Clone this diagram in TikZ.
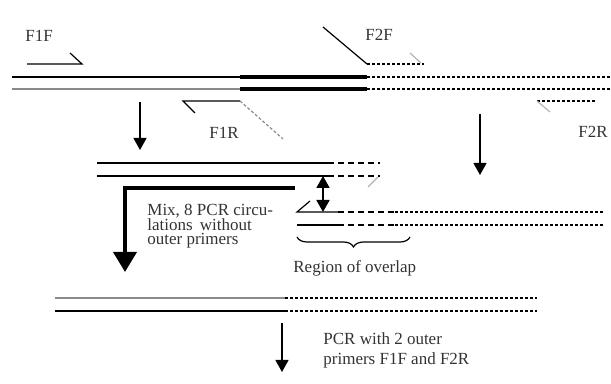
\documentclass[tikz,border=0pt]{standalone}
\usepackage{fontspec}
\setmainfont{Liberation Serif}
\usetikzlibrary{arrows.meta,decorations.pathreplacing}
\definecolor{strand-grey}{HTML}{8A8A8A}
\definecolor{tail-grey}{HTML}{B4B4B4}
\definecolor{label-grey}{HTML}{333333}

\begin{document}
\begin{tikzpicture}[x=0.5pt, y=-0.5pt,
    strand/.style={line width=0.6pt},
    fine dash/.style={line width=0.6pt, dash pattern=on 1.5pt off 1pt},
    coarse dash/.style={line width=0.6pt, dash pattern=on 3pt off 2pt},
    core/.style={line width=2.2pt},
    step arrow/.style={-{Triangle[width=6.5pt,length=6pt]}, line width=0.6pt},
    label/.style={font=\fontsize{8.5}{7.3}\selectfont, text=label-grey, inner sep=0pt}]
    % Coordinates in pixels of a 611 x 384 frame, y pointing down.
    %   top duplex at y=77 / 89, core from x=240 to x=367
    %   middle duplexes at y=163 / 176 and y=212 / 225
    %   product duplex at y=298 / 311
    \useasboundingbox (0,0) rectangle (611,384);

    % top duplex with both fragments
    \draw[strand] (12,77) -- (240,77);
    \draw[strand, strand-grey] (12,89) -- (240,89);
    \draw[core] (240,77) -- (367,77);
    \draw[core] (240,89) -- (367,89);
    \draw[fine dash] (367,77) -- (611,77);
    \draw[fine dash] (367,89) -- (611,89);

    % primers
    \draw[strand] (27,64) -- (82,64) -- (70,53);
    \draw[strand] (195,113) -- (183,101) -- (240,101);
    \draw[fine dash, strand-grey] (240,101) -- (283,139);
    \draw[strand] (323,27) -- (367,64);
    \draw[fine dash] (367,64) -- (424,64);
    \draw[strand, tail-grey] (410,53) -- (421,63);
    \draw[fine dash] (537,101) -- (595,101);
    \draw[strand, tail-grey] (537,101) -- (550,112);
    \node[label, anchor=base west] (f1f) at (25,42) {F1F};
    \node[label, anchor=base west] (f1r) at (209,139) {F1R};
    \node[label, anchor=base west] (f2f) at (365,41) {F2F};
    \node[label, anchor=base west] (f2r) at (578,138) {F2R};

    \draw[step arrow] (140,102) -- (140,150);
    \draw[step arrow] (480,114) -- (480,175);

    % first PCR products
    \draw[strand] (97,163) -- (328,163);
    \draw[coarse dash] (328,163) -- (380,163);
    \draw[strand] (97,176) -- (328,176);
    \draw[coarse dash] (328,176) -- (380,176);
    \draw[strand, tail-grey] (368,187) -- (378,177);
    \draw[strand] (310,201) -- (297,212) -- (338,212);
    \draw[coarse dash] (338,212) -- (395,212);
    \draw[fine dash] (395,212) -- (605,212);
    \draw[strand] (297,225) -- (338,225);
    \draw[coarse dash] (338,225) -- (395,225);
    \draw[fine dash] (395,225) -- (605,225);

    \draw[line width=0.9pt, {Triangle[width=6.5pt,length=6pt]}-{Triangle[width=6.5pt,length=6pt]}]
      (323,176) -- (323,212);
    \draw[line width=1.9pt, -{Triangle[width=11.5pt,length=10pt]}]
      (295,188) -- (125,188) -- (125,272);
    \node[label, anchor=north west, align=left] (mix) at (147,204)
      {Mix, 8 PCR circu-\\lations\, without\\outer primers};

    \draw[strand, decorate, decoration={brace, mirror, amplitude=5pt}]
      (297,237) -- (410,237);
    \node[label, anchor=base west] (overlap) at (293,273) {Region of overlap};

    % fused product
    \draw[strand, strand-grey] (55,298) -- (285,298);
    \draw[fine dash] (285,298) -- (537,298);
    \draw[strand] (55,311) -- (285,311);
    \draw[fine dash] (285,311) -- (537,311);
    \draw[step arrow] (282,323) -- (282,372);
    \node[label, anchor=north west, align=left, font=\fontsize{8.5}{10}\selectfont] (pcr) at (323,332)
      {PCR with 2 outer\\primers F1F and F2R};
\end{tikzpicture}
\end{document}
